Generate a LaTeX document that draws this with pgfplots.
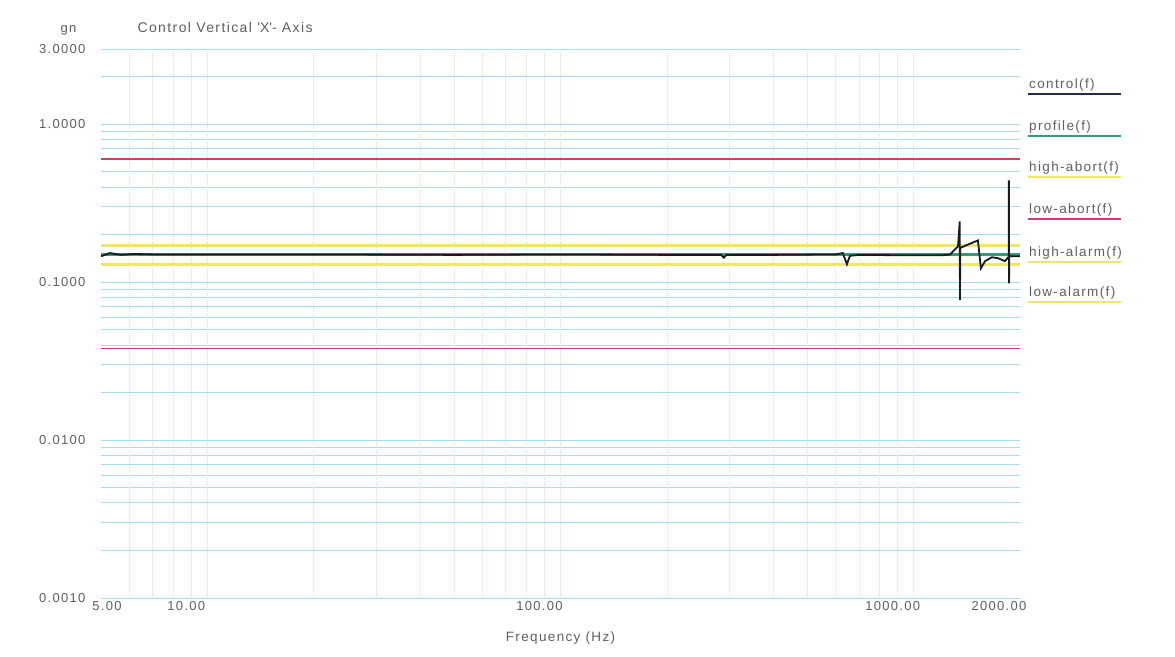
\documentclass[border=0pt]{standalone}
\usepackage{fontspec}
\setmainfont{Liberation Sans}[LetterSpace=10]
\usepackage{pgfplots}
\usepackage{pgfplotstable}
\pgfplotsset{compat=1.18}
\definecolor{gridc}{HTML}{A9DDEA}
\definecolor{vgridc}{HTML}{D6DFE2}
\definecolor{txt}{HTML}{5E5E5E}
\definecolor{ctrl}{HTML}{151A22}
\definecolor{prof}{HTML}{2E9E78}
\definecolor{habort}{HTML}{DE3A5C}
\definecolor{labort}{HTML}{D03878}
\definecolor{alarm}{HTML}{EFE66A}
\definecolor{navy}{HTML}{1E2C5C}

\pgfplotstableread{
f v
5 0.146
5.3 0.153
5.7 0.149
6.2 0.151
7 0.150
10 0.150
20 0.150
50 0.149
100 0.150
200 0.149
285 0.149
290 0.143
295 0.149
400 0.149
600 0.150
630 0.153
647 0.130
660 0.147
700 0.149
1000 0.148
1200 0.148
1268 0.150
1335 0.169
1350 0.243
1352 0.077
1355 0.165
1397 0.170
1520 0.184
1550 0.1225
1592 0.136
1666 0.144
1732 0.142
1813 0.136
1858 0.145
1860 0.442
1862 0.0985
1865 0.146
1898 0.146
2000 0.146
}\ctrldata

\pgfplotstableread{
f v
5 0.150
2000 0.150
}\profdata

\pgfplotstableread{
f v
5 0.60
2000 0.60
}\habortdata

\pgfplotstableread{
f v
5 0.038
2000 0.038
}\labortdata

\pgfplotstableread{
f v
5 0.171
2000 0.171
}\halarmdata

\pgfplotstableread{
f v
5 0.130
2000 0.130
}\lalarmdata

\begin{document}
\begin{tikzpicture}
\useasboundingbox (0pt,0pt) rectangle (1175pt,656pt);
\begin{axis}[
  at={(101pt,58pt)}, anchor=south west,
  scale only axis, width=919pt, height=549pt,
  xmode=log, ymode=log,
  xmin=5, xmax=2000, ymin=0.001, ymax=3,
  axis line style={draw=none},
  major tick length=0pt, minor tick length=0pt,
  xtick={5,10,100,1000,2000},
  xticklabels={\hspace*{54pt}5.00,10.00,100.00,1000.00,2000.00},
  ytick={0.001,0.01,0.1,1,3},
  yticklabels={0.0010,0.0100,0.1000,1.0000,3.0000},
  minor ytick={0.002,0.003,0.004,0.005,0.006,0.007,0.008,0.009,0.02,0.03,0.04,0.05,0.06,0.07,0.08,0.09,0.2,0.3,0.4,0.5,0.6,0.7,0.8,0.9,2},
  ymajorgrids=true, yminorgrids=true,
  major grid style={draw=gridc, line width=1pt},
  minor grid style={draw=gridc, line width=1pt},
  extra x ticks={6,7,8,9,10,20,30,40,50,60,70,80,90,100,200,300,400,500,600,700,800,900,1000},
  extra x tick labels={},
  extra x tick style={xmajorgrids=true, major grid style={draw=vgridc, densely dotted, line width=0.6pt}},
  /pgf/number format/assume math mode=true,
  tick label style={font=\fontsize{13}{15}\selectfont, text=txt},
  xticklabel style={xshift=-21pt},
  yticklabel style={xshift=-12pt},
  xlabel={Frequency (Hz)},
  xlabel style={font=\fontsize{13.5}{16}\selectfont, text=txt, yshift=-14pt},
  clip=false,
]
\addplot[draw=alarm, line width=3pt] table[x=f,y=v] {\halarmdata};
\addplot[draw=alarm, line width=3pt] table[x=f,y=v] {\lalarmdata};
\addplot[draw=habort, line width=1.8pt] table[x=f,y=v] {\habortdata};
\addplot[draw=labort, line width=1.8pt] table[x=f,y=v] {\labortdata};
\addplot[draw=prof, line width=2.4pt] table[x=f,y=v] {\profdata};
\addplot[draw=ctrl, line width=1.8pt] table[x=f,y=v] {\ctrldata};
\end{axis}
\node[anchor=west, text=txt, font=\fontsize{14}{16}\selectfont] at (134pt,628pt) {Control Vertical \textquotesingle X\textquotesingle- Axis};
\node[anchor=east, text=txt, font=\fontsize{13}{15}\selectfont] at (80pt,626pt) {gn};
\foreach \yy/\lab/\col in {571/control(f)/navy, 529/profile(f)/prof, 488/high-abort(f)/alarm, 446/low-abort(f)/labort, 403/high-alarm(f)/alarm, 363/low-alarm(f)/alarm}{
  \node[anchor=west, text=txt, font=\fontsize{13.5}{16}\selectfont, inner sep=0pt] at (1029pt,\yy pt) {\lab};
  \draw[\col, line width=2pt] (1028pt,\yy pt-9pt) -- (1121pt,\yy pt-9pt);
}
\end{tikzpicture}
\end{document}
